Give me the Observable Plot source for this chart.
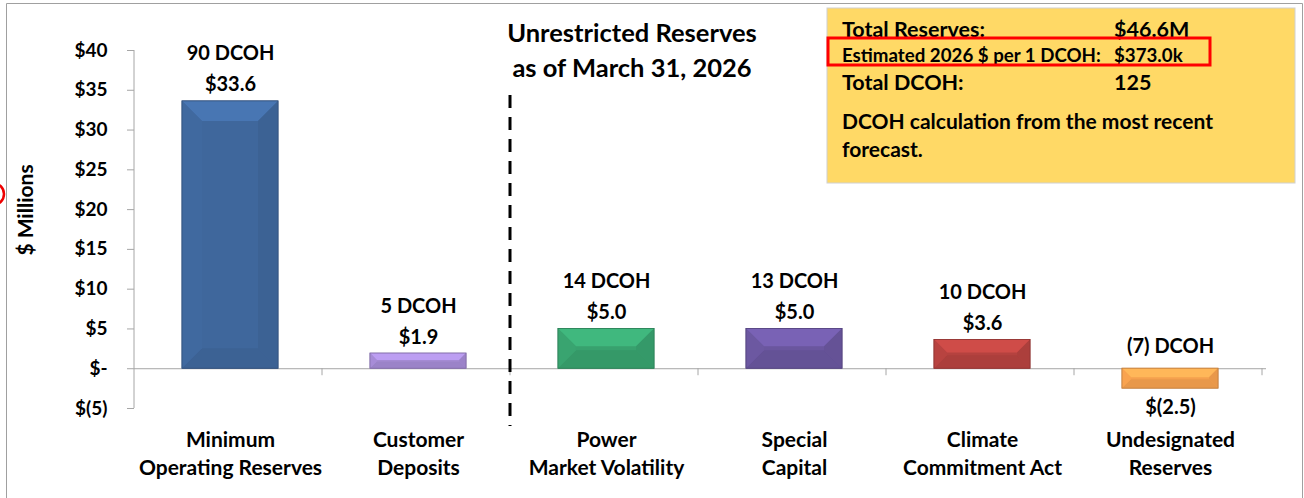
<!DOCTYPE html>
<html><head><meta charset="utf-8">
<script src="https://cdn.jsdelivr.net/npm/d3@7"></script>
<script src="https://cdn.jsdelivr.net/npm/@observablehq/plot@0.6"></script>
<style>
body{margin:0;background:#fff;}
#chart{position:relative;width:1304px;height:498px;}
svg{font-family:Lato, "Open Sans", sans-serif;}
</style></head>
<body><div id="chart"></div>
<script>
const categories = ["Minimum\nOperating Reserves","Customer\nDeposits","Power\nMarket Volatility","Special\nCapital","Climate\nCommitment Act","Undesignated\nReserves"];
const values = [33.6, 1.9, 5.0, 5.0, 3.6, -2.5];
const dcoh = ["90 DCOH","5 DCOH","14 DCOH","13 DCOH","10 DCOH","(7) DCOH"];
const valueLabels = ["$33.6","$1.9","$5.0","$5.0","$3.6","$(2.5)"];
const colors = ["#3F679C","#A48AD3","#38A16E","#6A569E","#B5423F","#F5A04E"];
const yTicks = [-5,0,5,10,15,20,25,30,35,40];
const yTickLabels = ["$(5)","$-","$5","$10","$15","$20","$25","$30","$35","$40"];
const boxRows = [["Total Reserves:","$46.6M"],["Estimated 2026 $ per 1 DCOH:","$373.0k"],["Total DCOH:","125"]];
const note = ["DCOH calculation from the most recent","forecast."];
const titleLines = ["Unrestricted Reserves","as of March 31, 2026"];

const data = categories.map((c,i)=>({c, v:values[i], d:dcoh[i], l:valueLabels[i], col:colors[i], i}));
const pos = data.filter(d=>d.v>=0), neg = data.filter(d=>d.v<0);
const bold = {fontWeight:700, fill:"#000"};

const chart = Plot.plot({
  width:1304, height:498,
  marginLeft:134, marginRight:38, marginTop:50, marginBottom:90,
  style:{fontFamily:"Lato, sans-serif", fontWeight:700, fontSize:"18px", color:"#000"},
  x:{domain:categories, paddingInner:0.49, paddingOuter:0.245, label:null, axis:null},
  y:{domain:[-5,40], label:null, axis:null},
  marks:[
    Plot.ruleY([0],{stroke:"#a6a6a6"}),
    Plot.barY(data,{x:"c", y:"v", fill:"col", stroke:d=>d3.color(d.col).darker(0.6).formatHex(), strokeWidth:0.8}),
    Plot.text(pos,{x:"c", y:"v", text:"l", dy:-10, lineAnchor:"bottom", fontSize:20, ...bold}),
    Plot.text(pos,{x:"c", y:"v", text:"d", dy:-41, lineAnchor:"bottom", fontSize:20, ...bold}),
    Plot.text(neg,{x:"c", y:()=>0, text:"d", dy:-16, lineAnchor:"bottom", fontSize:20, ...bold}),
    Plot.text(neg,{x:"c", y:"v", text:"l", dy:11, lineAnchor:"top", fontSize:20, ...bold}),
    Plot.axisY(yTicks,{tickSize:7, tickPadding:20, stroke:"#a6a6a6", tickFormat:d=>yTickLabels[yTicks.indexOf(d)], fontSize:19, ...bold}),
    Plot.axisX({tickSize:0, tickPadding:0, label:null, lineHeight:1.33, fontSize:21, dy:19, textAnchor:"middle", ...bold})
  ]
});
document.getElementById("chart").appendChild(chart);

const svg = d3.select(chart);
const xs = chart.scale("x"), ys = chart.scale("y");
const step = xs.step, bw = xs.bandwidth;
const x0 = xs.range[0];

// bevel facets drawn over each bar, from the scales
const bev = svg.append("g");
data.forEach(d=>{
  const xa = xs.apply(d.c), xb = xa + bw;
  const yt = ys.apply(Math.max(d.v,0)), yb = ys.apply(Math.min(d.v,0));
  const h = yb - yt;
  const b = Math.min(20, h*0.45);
  const base = d3.color(d.col);
  const poly = (pts, c) => bev.append("polygon").attr("points", pts.map(p=>p.join(",")).join(" ")).attr("fill", c);
  poly([[xa,yt],[xb,yt],[xb-b,yt+b],[xa+b,yt+b]], base.brighter(0.38).formatHex());
  poly([[xa,yb],[xb,yb],[xb-b,yb-b],[xa+b,yb-b]], base.darker(0.15).formatHex());
  poly([[xa,yt],[xa+b,yt+b],[xa+b,yb-b],[xa,yb]], base.brighter(0.05).formatHex());
  poly([[xb,yt],[xb-b,yt+b],[xb-b,yb-b],[xb,yb]], base.darker(0.14).formatHex());
  bev.append("rect").attr("x",xa).attr("y",yt).attr("width",bw).attr("height",h).attr("fill","none").attr("stroke",base.darker(0.6).formatHex()).attr("stroke-width",0.8);
});

// y axis line
svg.append("line").attr("x1",x0).attr("x2",x0).attr("y1",ys.apply(40)).attr("y2",ys.apply(-5)).attr("stroke","#a6a6a6");
// category boundary ticks
for(let i=1;i<=categories.length;i++){
  const xq = x0 + step*i;
  svg.append("line").attr("x1",xq).attr("x2",xq).attr("y1",ys.apply(0)).attr("y2",ys.apply(0)+7).attr("stroke","#a6a6a6");
}
// dashed separator
const xd = x0 + step*2;
svg.append("line").attr("x1",xd).attr("x2",xd).attr("y1",95).attr("y2",426).attr("stroke","#000").attr("stroke-width",3).attr("stroke-dasharray","13,9");
// frame
svg.append("path").attr("d","M6.5,498 V3.5 H1302.5 V498").attr("fill","none").attr("stroke","#a0a0a0");
// y title
svg.append("text").attr("transform","translate(33,210) rotate(-90)").attr("text-anchor","middle").attr("font-size",21).attr("font-weight",700).attr("fill","#000").text("$ Millions");
// red circle fragment
svg.append("circle").attr("cx",-7).attr("cy",194).attr("r",11).attr("fill","none").attr("stroke","#e00").attr("stroke-width",2.5);
// title
titleLines.forEach((t,i)=>svg.append("text").attr("x",632).attr("y",42+i*35).attr("text-anchor","middle").attr("font-size",25.5).attr("font-weight",700).attr("fill","#000").text(t));
// yellow box
svg.append("rect").attr("x",827).attr("y",8).attr("width",468).attr("height",175).attr("fill","#FFD966").attr("stroke","#d0d0d0");
boxRows.forEach((r,i)=>{
  const y=[37,62,90][i], fs=i===1?18.7:21.5;
  svg.append("text").attr("x",842).attr("y",y).attr("text-anchor","start").attr("font-size",fs).attr("font-weight",700).attr("fill","#000").text(r[0]);
  svg.append("text").attr("x",1114).attr("y",y).attr("text-anchor","start").attr("font-size",fs).attr("font-weight",700).attr("fill","#000").text(r[1]);
});
svg.append("rect").attr("x",828).attr("y",38).attr("width",382).attr("height",27).attr("fill","none").attr("stroke","#f00").attr("stroke-width",3);
note.forEach((t,i)=>svg.append("text").attr("x",842).attr("y",129+i*28).attr("text-anchor","start").attr("font-size",21).attr("font-weight",700).attr("fill","#000").text(t));
</script></body></html>
